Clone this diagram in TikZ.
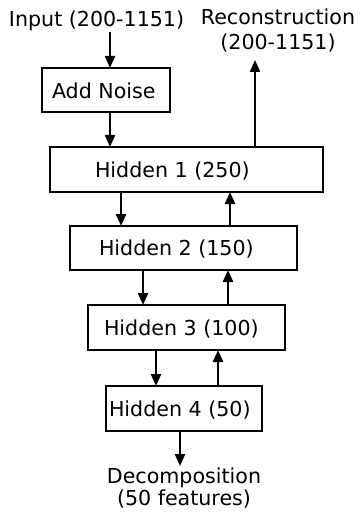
\documentclass[tikz,border=0pt]{standalone}
\usepackage{fontspec}
\setmainfont{DejaVu Sans}
\usetikzlibrary{arrows.meta}
\begin{document}
\begin{tikzpicture}[x=1pt,y=-1pt,
  every node/.style={inner sep=0pt, outer sep=0pt, font=\fontsize{20.6}{25}\selectfont},
  box/.style={draw, line width=2.2pt, rectangle},
  lbl/.style={anchor=base west},
  flow/.style={line width=2.2pt, -{Triangle[length=12pt,width=10pt]}}]
  \useasboundingbox (0,0) rectangle (360,513);

  % boxes of the stacked autoencoder
  \node[box, minimum width=128pt, minimum height=44pt] (noise) at (105.7,90) {};
  \node[box, minimum width=273pt, minimum height=45pt] (h1) at (186.5,169.5) {};
  \node[box, minimum width=227pt, minimum height=44pt] (h2) at (183.5,248) {};
  \node[box, minimum width=197pt, minimum height=45pt] (h3) at (186.5,327.5) {};
  \node[box, minimum width=156pt, minimum height=45pt] (h4) at (184,408.5) {};

  % box captions
  \node[lbl] (noiset) at (52,98.5) {Add Noise};
  \node[lbl] (h1t) at (95,177) {Hidden 1 (250)};
  \node[lbl] (h2t) at (99,255.5) {Hidden 2 (150)};
  \node[lbl] (h3t) at (104,335) {Hidden 3 (100)};
  \node[lbl] (h4t) at (109,416) {Hidden 4 (50)};

  % input and output labels
  \node[lbl] (input) at (9,26.7) {Input (200-1151)};
  \node[anchor=north, align=center] (recon) at (278,9) {Reconstruction\\(200-1151)};
  \node[anchor=north, align=center, font=\fontsize{20.6}{22}\selectfont] (decomp) at (184,468)
    {Decomposition\\(50 features)};

  \coordinate (inend) at (110,32);
  \coordinate (recend) at (255,60);
  \coordinate (decend) at (180,466);

  % connectors
  \draw[flow] (inend) -- (noise.north -| inend);
  \draw[flow] (noise.south -| inend) -- (h1.north -| inend);
  \draw[flow] (h1.north -| recend) -- (recend);

  \draw[flow] (h1.south -| 121,0) -- (h2.north -| 121,0);
  \draw[flow] (h2.north -| 230,0) -- (h1.south -| 230,0);
  \draw[flow] (h2.south -| 143,0) -- (h3.north -| 143,0);
  \draw[flow] (h3.north -| 228,0) -- (h2.south -| 228,0);
  \draw[flow] (h3.south -| 156,0) -- (h4.north -| 156,0);
  \draw[flow] (h4.north -| 218,0) -- (h3.south -| 218,0);
  \draw[flow] (h4.south -| decend) -- (decend);
\end{tikzpicture}
\end{document}
